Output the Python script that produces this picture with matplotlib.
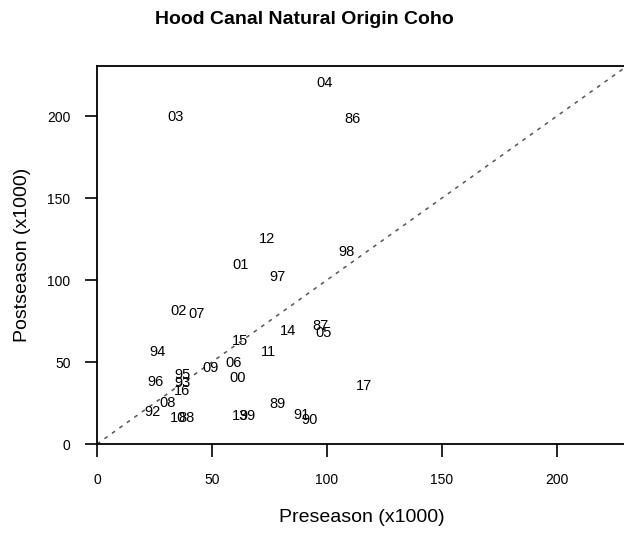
import numpy as np
import matplotlib.pyplot as plt

plt.rcParams['font.family'] = ['Liberation Sans', 'DejaVu Sans']

# return years, preseason forecast and postseason estimate (x1000)
years = ['86', '87', '88', '89', '90', '91', '92', '93', '94', '95', '96',
         '97', '98', '99', '00', '01', '02', '03', '04', '05', '06', '07',
         '08', '09', '10', '11', '12', '13', '14', '15', '16', '17']
pre = [111.1, 97.2, 38.8, 78.4, 92.4, 88.9, 24.0, 37.0, 26.1, 37.0, 25.3,
       78.4, 108.5, 65.4, 61.0, 62.3, 35.3, 34.0, 98.9, 98.5, 59.3, 43.1,
       30.5, 49.2, 35.3, 74.5, 74.1, 62.3, 83.2, 62.3, 37.0, 116.3]
post = [198.2, 72.0, 15.9, 24.4, 14.6, 17.7, 19.5, 37.2, 56.1, 42.1, 37.8,
        101.8, 117.1, 17.1, 40.2, 109.1, 81.1, 199.4, 220.1, 67.7, 49.4, 79.3,
        25.0, 46.3, 15.9, 56.1, 125.0, 17.1, 68.9, 62.8, 32.3, 35.4]

W, H = 624, 535
fig = plt.figure(figsize=(W / 100, H / 100), dpi=100)
# right edge of the box falls just outside the picture, as in the original
ax = fig.add_axes([97 / W, 91 / H, 529 / W, 378 / H])

ax.set_xlim(0, 230)
ax.set_ylim(0, 230.5)

ax.plot([0, 300], [0, 300], color='#555555', lw=1.1, ls=(0, (2.5, 3.5)))

for yr, x, y in zip(years, pre, post):
    ax.text(x, y, yr, ha='center', va='center', fontsize=10.5, color='black')

ax.set_xticks([0, 50, 100, 150, 200])
ax.set_yticks([0, 50, 100, 150, 200])
ax.tick_params(direction='out', length=9, width=1.2, labelsize=10, pad=12)
ax.tick_params(axis='y', pad=10)
for s in ax.spines.values():
    s.set_linewidth(1.3)

ax.set_xlabel('Preseason (x1000)', fontsize=14, labelpad=16)
ax.set_ylabel('Postseason (x1000)', fontsize=14, labelpad=12)
fig.text(0.4875, 1 - 20 / H, 'Hood Canal Natural Origin Coho', ha='center',
         va='center', fontsize=14, fontweight='bold')

fig.savefig('out.png', dpi=100)
